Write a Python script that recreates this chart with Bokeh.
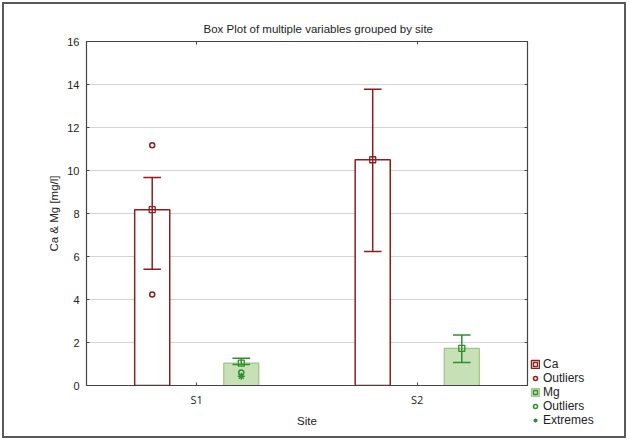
from bokeh.plotting import figure
from bokeh.layouts import row
from bokeh.models import (FixedTicker, LinearAxis, Legend, LegendItem,
                          ColumnDataSource, Range1d, CustomLabelingPolicy)
from bokeh.embed import file_html
from bokeh.resources import INLINE

# ---- data ----
sites = ["S1", "S2"]
ca_median = [8.18, 10.50]
ca_low = [5.41, 6.23]
ca_high = [9.67, 13.78]
ca_out_site = ["S1", "S1"]
ca_out_val = [11.18, 4.23]

mg_median = [1.04, 1.73]
mg_low = [0.98, 1.07]
mg_high = [1.27, 2.35]
mg_out_site = ["S1"]
mg_out_val = [0.61]
mg_ext_site = ["S1"]
mg_ext_val = [0.43]

yticks = [0, 2, 4, 6, 8, 10, 12, 14, 16]

# ---- styling ----
CA = "#8b1f1f"
MG = "#2f8f2f"
MG_FILL = "#c8e0b6"
MG_EDGE = "#9cc58a"
FONT = "Liberation Sans"
OFF = 0.202
BW = 0.159
CAP = 0.08

pos = {s: i + 0.5 for i, s in enumerate(sites)}

p = figure(width=526, height=432, output_backend="svg", toolbar_location=None,
           x_range=Range1d(0, len(sites)), y_range=Range1d(0, 16),
           min_border_left=82, min_border_right=3, min_border_top=37, min_border_bottom=51,
           title="Box Plot of multiple variables grouped by  site")
p.frame_align = False
p.title.text_font = FONT
p.title.text_font_size = "11.5px"
p.title.text_font_style = "normal"
p.title.text_color = "#222222"
p.title.align = "left"
p.title.offset = 117
p.title.standoff = 13

p.outline_line_color = "#444444"
p.outline_line_width = 1.2
p.background_fill_color = "white"
p.border_fill_color = "white"

p.xgrid.visible = False
p.ygrid.ticker = FixedTicker(ticks=yticks)
p.ygrid.grid_line_color = "#d4d4d4"

# x axis
xa = p.xaxis[0]
xa.ticker = FixedTicker(ticks=[pos[s] for s in sites])
xa.major_label_overrides = {pos[s]: s for s in sites}
xa.axis_label = "Site"
xa.major_tick_in = 3
xa.major_tick_out = 0
xa.minor_tick_line_color = None
xa.axis_line_color = "#444444"
xa.major_tick_line_color = "#444444"
xa.major_label_text_font = "Open Sans"
xa.major_label_text_font_size = "11px"
xa.major_label_text_color = "#222222"
xa.major_label_standoff = 6
xa.axis_label_text_font = FONT
xa.axis_label_text_font_size = "11.5px"
xa.axis_label_text_font_style = "normal"
xa.axis_label_text_color = "#222222"
xa.axis_label_standoff = 5

ya = p.yaxis[0]
ya.ticker = FixedTicker(ticks=yticks)
ya.axis_label = "Ca & Mg [mg/l]"
ya.major_tick_in = 3
ya.major_tick_out = 0
ya.minor_tick_line_color = None
ya.axis_line_color = "#444444"
ya.major_tick_line_color = "#444444"
ya.major_label_text_font = FONT
ya.major_label_text_font_size = "11px"
ya.major_label_text_color = "#222222"
ya.major_label_standoff = 7
ya.axis_label_text_font = FONT
ya.axis_label_text_font_size = "11.5px"
ya.axis_label_text_font_style = "normal"
ya.axis_label_text_color = "#222222"
ya.axis_label_standoff = 4

# right / top tick axes (ticks only, no labels)
no_labels = CustomLabelingPolicy(code="return new Set()")
ra = LinearAxis(ticker=FixedTicker(ticks=yticks), major_tick_in=3, major_tick_out=0,
                minor_tick_line_color=None, major_label_policy=no_labels,
                major_label_text_font_size="0px", major_label_standoff=0,
                axis_line_color="#444444", major_tick_line_color="#444444")
p.add_layout(ra, "right")
ta = LinearAxis(ticker=FixedTicker(ticks=[pos[s] for s in sites]), major_tick_in=3, major_tick_out=0,
                minor_tick_line_color=None, major_label_policy=no_labels,
                major_label_text_font_size="0px", major_label_standoff=0,
                axis_line_color="#444444", major_tick_line_color="#444444")
p.add_layout(ta, "above")

# ---- Ca ----
ca_x = [pos[s] - OFF for s in sites]
ca_src = ColumnDataSource(dict(x=ca_x, med=ca_median, lo=ca_low, hi=ca_high,
                               x0=[x - CAP / 2 for x in ca_x], x1=[x + CAP / 2 for x in ca_x]))
ca_out_src = ColumnDataSource(dict(x=[pos[s] - OFF for s in ca_out_site], y=ca_out_val))
p.vbar(x="x", top="med", bottom=0, width=BW, source=ca_src,
       fill_color="white", line_color=CA, line_width=1.5)
p.segment(x0="x", y0="lo", x1="x", y1="hi", source=ca_src, line_color=CA, line_width=1.5)
p.segment(x0="x0", y0="hi", x1="x1", y1="hi", source=ca_src, line_color=CA, line_width=1.5)
p.segment(x0="x0", y0="lo", x1="x1", y1="lo", source=ca_src, line_color=CA, line_width=1.5)
p.scatter(x="x", y="med", source=ca_src, marker="square", size=6,
          fill_color=None, line_color=CA, line_width=1.3)
p.scatter(x="x", y="y", source=ca_out_src, marker="circle", size=5,
          fill_color=None, line_color=CA, line_width=1.5)

# ---- Mg ----
mg_x = [pos[s] + OFF for s in sites]
mg_src = ColumnDataSource(dict(x=mg_x, med=mg_median, lo=mg_low, hi=mg_high,
                               x0=[x - CAP / 2 for x in mg_x], x1=[x + CAP / 2 for x in mg_x]))
mg_out_src = ColumnDataSource(dict(x=[pos[s] + OFF for s in mg_out_site], y=mg_out_val))
mg_ext_src = ColumnDataSource(dict(x=[pos[s] + OFF for s in mg_ext_site], y=mg_ext_val))
p.vbar(x="x", top="med", bottom=0, width=BW, source=mg_src,
       fill_color=MG_FILL, line_color=MG_EDGE, line_width=1.2)
p.segment(x0="x", y0="lo", x1="x", y1="hi", source=mg_src, line_color=MG, line_width=1.5)
p.segment(x0="x0", y0="hi", x1="x1", y1="hi", source=mg_src, line_color=MG, line_width=1.5)
p.segment(x0="x0", y0="lo", x1="x1", y1="lo", source=mg_src, line_color=MG, line_width=1.5)
p.scatter(x="x", y="med", source=mg_src, marker="square", size=6,
          fill_color=None, line_color=MG, line_width=1.3)
p.scatter(x="x", y="y", source=mg_out_src, marker="circle", size=5,
          fill_color=None, line_color=MG, line_width=1.5)
p.scatter(x="x", y="y", source=mg_ext_src, marker="asterisk", size=7,
          line_color=MG, line_width=1.3)

# ---- legend panel (separate figure; hidden copies of the series give the keys) ----
lg = figure(width=94, height=432, output_backend="svg", toolbar_location=None,
            x_range=Range1d(0, 1), y_range=Range1d(0, 1), x_axis_type=None, y_axis_type=None,
            min_border_left=0, min_border_right=0, min_border_top=0, min_border_bottom=0)
lg.frame_align = False
lg.outline_line_color = None
lg.xgrid.visible = False
lg.ygrid.visible = False
lg.background_fill_color = "white"
lg.border_fill_color = "white"
l_ca_bar = lg.vbar(x="x", top="med", width=BW, source=ca_src, fill_color="white",
                   line_color=CA, line_width=1.5, visible=False)
l_ca_med = lg.scatter(x="x", y="med", source=ca_src, marker="square", size=5,
                      fill_color=None, line_color=CA, line_width=1.3, visible=False)
l_ca_out = lg.scatter(x="x", y="y", source=ca_out_src, marker="circle", size=5,
                      fill_color=None, line_color=CA, line_width=1.5, visible=False)
l_mg_bar = lg.vbar(x="x", top="med", width=BW, source=mg_src, fill_color=MG_FILL,
                   line_color=MG_EDGE, line_width=1.2, visible=False)
l_mg_med = lg.scatter(x="x", y="med", source=mg_src, marker="square", size=5,
                      fill_color=None, line_color=MG, line_width=1.3, visible=False)
l_mg_out = lg.scatter(x="x", y="y", source=mg_out_src, marker="circle", size=5,
                      fill_color=None, line_color=MG, line_width=1.5, visible=False)
l_mg_ext = lg.scatter(x="x", y="y", source=mg_ext_src, marker="asterisk", size=8,
                      line_color=MG, line_width=1.3, visible=False)

legend = Legend(items=[
    LegendItem(label="Ca", renderers=[l_ca_bar, l_ca_med]),
    LegendItem(label="Outliers", renderers=[l_ca_out]),
    LegendItem(label="Mg", renderers=[l_mg_bar, l_mg_med]),
    LegendItem(label="Outliers", renderers=[l_mg_out]),
    LegendItem(label="Extremes", renderers=[l_mg_ext]),
], location=(0, 9), orientation="vertical")
legend.label_text_font = FONT
legend.label_text_font_size = "12px"
legend.label_text_color = "#222222"
legend.label_height = 13
legend.glyph_height = 10
legend.glyph_width = 10
legend.spacing = 0
legend.padding = 2
legend.margin = 0
legend.label_standoff = 3
legend.border_line_color = None
legend.background_fill_alpha = 0
legend.inactive_fill_alpha = 0
lg.add_layout(legend, "center")

layout = row(p, lg, spacing=0,
             styles={"border": "2px solid #5a5a5a", "margin": "2px 0 0 2px", "background": "white"})

open("out.html", "w").write(file_html(layout, INLINE))
